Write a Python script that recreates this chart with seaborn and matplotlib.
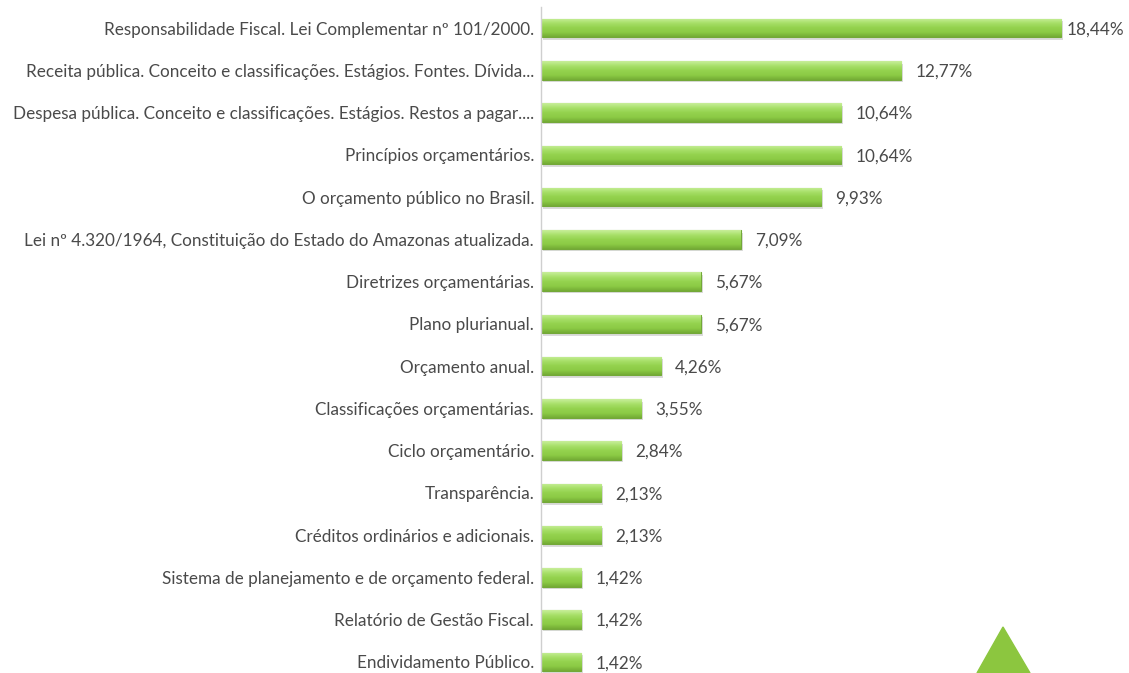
import matplotlib
matplotlib.use('Agg')
import matplotlib.pyplot as plt
import seaborn as sns
import numpy as np
import pandas as pd
from matplotlib.patches import Polygon
from matplotlib.colors import LinearSegmentedColormap

# dados
topicos = [
    'Responsabilidade Fiscal. Lei Complementar nº 101/2000.',
    'Receita pública. Conceito e classificações. Estágios. Fontes. Dívida...',
    'Despesa pública. Conceito e classificações. Estágios. Restos a pagar....',
    'Princípios orçamentários.',
    'O orçamento público no Brasil.',
    'Lei nº 4.320/1964, Constituição do Estado do Amazonas atualizada.',
    'Diretrizes orçamentárias.',
    'Plano plurianual.',
    'Orçamento anual.',
    'Classificações orçamentárias.',
    'Ciclo orçamentário.',
    'Transparência.',
    'Créditos ordinários e adicionais.',
    'Sistema de planejamento e de orçamento federal.',
    'Relatório de Gestão Fiscal.',
    'Endividamento Público.',
]
percentuais = [18.44, 12.77, 10.64, 10.64, 9.93, 7.09, 5.67, 5.67,
               4.26, 3.55, 2.84, 2.13, 2.13, 1.42, 1.42, 1.42]

df = pd.DataFrame({'topico': topicos, 'pct': percentuais})

sns.set_style('white')
plt.rcParams['font.family'] = ['Lato', 'DejaVu Sans']

fig = plt.figure(figsize=(11.29, 6.73), dpi=100)
ax = fig.add_axes([541 / 1129, -10 / 673, 588 / 1129, 676 / 673])

# sombra
ax.barh([i + 0.06 for i in range(len(percentuais))], percentuais, height=0.44,
        left=0.06, color='#8a8a8a', alpha=0.3, linewidth=0, zorder=1)
# barra principal
sns.barplot(data=df, x='pct', y='topico', orient='h', color='#8fcf45',
            width=0.44, edgecolor='#73a838', linewidth=0.8, saturation=1,
            ax=ax, zorder=2)

# gradiente dentro de cada barra
grad = LinearSegmentedColormap.from_list(
    'verde', ['#c8ee9a', '#a8e06a', '#94d24e', '#8ccb45', '#73ab35'])
g = np.linspace(0, 1, 64).reshape(-1, 1)
for bar in list(ax.patches)[len(percentuais):]:
    x0, y0 = bar.get_x(), bar.get_y()
    w, h = bar.get_width(), bar.get_height()
    im = ax.imshow(g, cmap=grad, aspect='auto', extent=(x0, x0 + w, y0 + h, y0),
                   zorder=2.5, interpolation='bilinear')
    im.set_clip_path(bar)

for i, p in enumerate(percentuais):
    pad = 0.2 if i == 0 else 0.5
    ax.text(p + pad, i + 0.03, f'{p:.2f}%'.replace('.', ','), va='center',
            ha='left', fontsize=12.3, color='#4a4a4a')

ax.set_xlim(0, 588 / 28.2)
ax.set_ylim(15.5, -0.5)
ax.set_xlabel('')
ax.set_ylabel('')
ax.set_xticks([])
ax.tick_params(axis='y', length=0, pad=5, labelsize=12.3, labelcolor='#4a4a4a')
for s in ['top', 'right', 'bottom']:
    ax.spines[s].set_visible(False)
ax.spines['left'].set_color('#cfcfcf')
ax.spines['left'].set_linewidth(1)

# triângulo decorativo
tri = Polygon([[977 / 1129, 0], [1030 / 1129, 0], [1003 / 1129, 46 / 673]],
              closed=True, transform=fig.transFigure, color='#8cc63f',
              clip_on=False)
fig.patches.append(tri)

fig.savefig('out.png', dpi=100)
